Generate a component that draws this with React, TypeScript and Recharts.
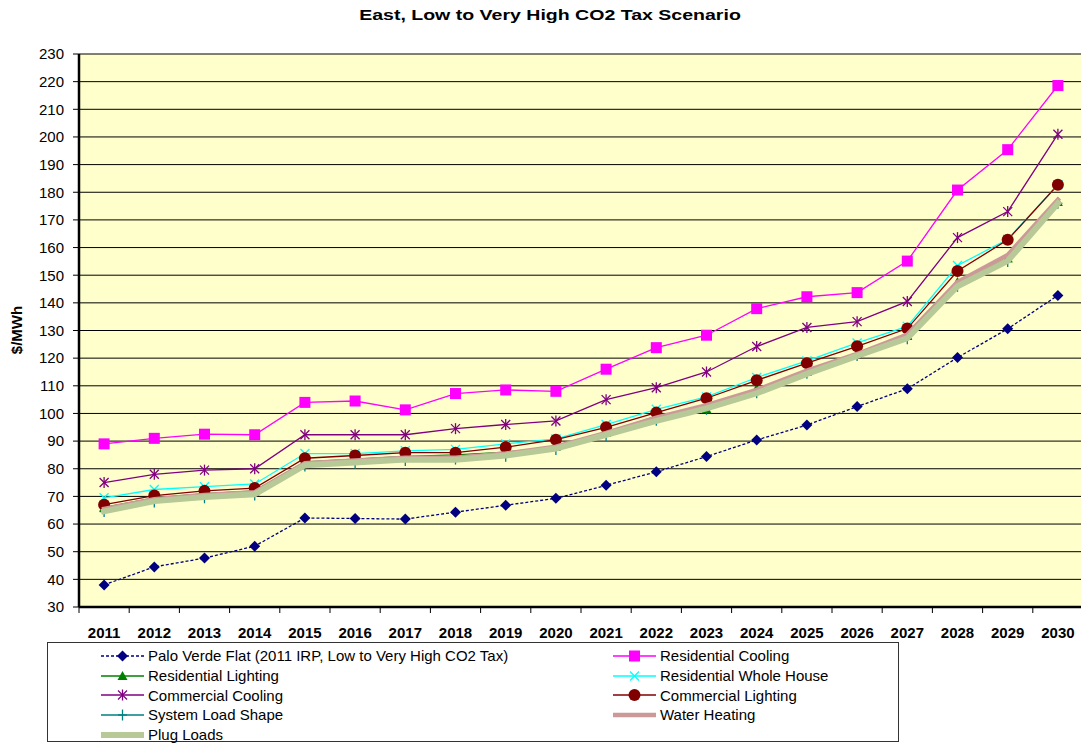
import { LineChart, Line, XAxis, YAxis, CartesianGrid } from 'recharts'

const years = ['2011', '2012', '2013', '2014', '2015', '2016', '2017', '2018', '2019', '2020',
  '2021', '2022', '2023', '2024', '2025', '2026', '2027', '2028', '2029', '2030']

const paloVerde = [38, 44.5, 47.7, 52, 62.2, 62, 61.8, 64.3, 66.8, 69.3, 74, 78.9, 84.4, 90.4, 95.8, 102.5, 108.9, 120.2, 130.6, 142.7]
const resCooling = [89, 91, 92.5, 92.3, 104, 104.5, 101.3, 107.2, 108.5, 108, 116, 123.8, 128.3, 137.9, 142.2, 143.7, 155.1, 180.8, 195.4, 218.6]
const resLighting = [66, 69.5, 71, 72, 82.5, 83.5, 84.5, 85, 86, 88, 93, 99, 101.5, 109, 115, 121.5, 128, 147.5, 156, 176.5]
const resWholeHouse = [69.5, 72.5, 73.5, 74.5, 85.5, 85.5, 86.5, 87, 89, 90.8, 96, 101.5, 106, 113, 119, 125.5, 131.5, 153.5, 163, 182.7]
const comCooling = [75, 78, 79.5, 80, 92.3, 92.3, 92.3, 94.5, 96, 97.3, 105, 109.3, 115, 124.2, 131.1, 133.2, 140.5, 163.6, 173, 201]
const comLighting = [67, 70.3, 72, 73, 83.8, 84.8, 85.8, 85.8, 87.8, 90.5, 95, 100.3, 105.5, 112, 118.2, 124.3, 130.7, 151.5, 162.8, 182.7]
const systemLoad = [64.5, 68, 69.5, 70.5, 81, 82, 83, 83.5, 84.5, 87, 92, 97.5, 101.5, 107.5, 114.5, 121, 127, 146, 155, 176]
const waterHeating = [65.5, 69, 70.5, 71.5, 82, 83, 84, 84, 85.5, 88, 93, 98.5, 103, 108.5, 115.5, 121.5, 128.5, 147.5, 157.3, 177.3]
const plugLoads = [64.6, 68.3, 69.8, 70.8, 81.3, 82.3, 83.3, 83.3, 84.8, 87.3, 92.3, 97.3, 101.8, 107.3, 114.3, 120.8, 127.2, 146, 155.2, 176]

const yTicks = [30, 40, 50, 60, 70, 80, 90, 100, 110, 120, 130, 140, 150, 160, 170, 180, 190, 200, 210, 220, 230]

type Marker = 'diamond' | 'square' | 'triangle' | 'x' | 'asterisk' | 'circle' | 'plus' | 'none'

const series: { key: string; name: string; values: number[]; color: string; width: number; dash?: string; marker: Marker }[] = [
  { key: 'pv', name: 'Palo Verde Flat (2011 IRP, Low to Very High CO2 Tax)', values: paloVerde, color: '#000080', width: 1.3, dash: '3 2', marker: 'diamond' },
  { key: 'rc', name: 'Residential Cooling', values: resCooling, color: '#FF00FF', width: 1.3, marker: 'square' },
  { key: 'rl', name: 'Residential Lighting', values: resLighting, color: '#008000', width: 1.3, marker: 'triangle' },
  { key: 'rw', name: 'Residential Whole House', values: resWholeHouse, color: '#00FFFF', width: 1.3, marker: 'x' },
  { key: 'cc', name: 'Commercial Cooling', values: comCooling, color: '#800080', width: 1.3, marker: 'asterisk' },
  { key: 'cl', name: 'Commercial Lighting', values: comLighting, color: '#800000', width: 1.3, marker: 'circle' },
  { key: 'sl', name: 'System Load Shape', values: systemLoad, color: '#008080', width: 1.3, marker: 'plus' },
  { key: 'wh', name: 'Water Heating', values: waterHeating, color: '#CC9999', width: 4.5, marker: 'none' },
  { key: 'pl', name: 'Plug Loads', values: plugLoads, color: '#B7C996', width: 6, marker: 'none' },
]

// draw order: thin green/teal under the thick bands, the rest on top
const drawOrder = ['sl', 'rl', 'wh', 'pl', 'rw', 'cl', 'cc', 'rc', 'pv']
const bandKeys = ['wh', 'pl']

const data = years.map((year, i) => {
  const row: Record<string, string | number> = { year }
  series.forEach(s => { row[s.key] = s.values[i] })
  return row
})

const FONT = '"Liberation Sans", Arial, sans-serif'
const CHART_W = 1085
const CHART_H = 743
const PLOT_LEFT = 79
const PLOT_RIGHT = 2
const HALF_BAND = (CHART_W - PLOT_LEFT - PLOT_RIGHT) / years.length / 2

function MarkerShape({ type, x, y, color }: { type: Marker; x: number; y: number; color: string }) {
  switch (type) {
    case 'diamond':
      return <polygon points={`${x},${y - 5.5} ${x + 5.5},${y} ${x},${y + 5.5} ${x - 5.5},${y}`} fill={color} />
    case 'square':
      return <rect x={x - 5.5} y={y - 5.5} width={11} height={11} fill={color} />
    case 'triangle':
      return <polygon points={`${x},${y - 5} ${x + 5},${y + 4} ${x - 5},${y + 4}`} fill={color} />
    case 'x':
      return (
        <g stroke={color} strokeWidth={1.3}>
          <line x1={x - 4.5} y1={y - 4.5} x2={x + 4.5} y2={y + 4.5} />
          <line x1={x - 4.5} y1={y + 4.5} x2={x + 4.5} y2={y - 4.5} />
        </g>
      )
    case 'asterisk':
      return (
        <g stroke={color} strokeWidth={1.3}>
          <line x1={x - 4.5} y1={y - 4.5} x2={x + 4.5} y2={y + 4.5} />
          <line x1={x - 4.5} y1={y + 4.5} x2={x + 4.5} y2={y - 4.5} />
          <line x1={x} y1={y - 5.5} x2={x} y2={y + 5.5} />
        </g>
      )
    case 'circle':
      return <circle cx={x} cy={y} r={6} fill={color} />
    case 'plus':
      return (
        <g stroke={color} strokeWidth={1.3}>
          <line x1={x - 4.5} y1={y} x2={x + 4.5} y2={y} />
          <line x1={x} y1={y - 5.5} x2={x} y2={y + 5.5} />
        </g>
      )
    default:
      return null
  }
}

const XTick = (props: any) => {
  const { x, y, payload, index } = props
  return (
    <g>
      <line x1={x - HALF_BAND} x2={x - HALF_BAND} y1={y} y2={y + 6} stroke="#000" strokeWidth={1} />
      {index === years.length - 1 && (
        <line x1={x + HALF_BAND} x2={x + HALF_BAND} y1={y} y2={y + 6} stroke="#000" strokeWidth={1} />
      )}
      <text x={x} y={y + 31} textAnchor="middle" fontFamily={FONT} fontSize={15} fontWeight="bold" fill="#000">
        {payload.value}
      </text>
    </g>
  )
}

function LegendItem({ s }: { s: typeof series[number] }) {
  return (
    <div style={{ display: 'flex', alignItems: 'center', height: 19.7 }}>
      <svg width={45} height={16} style={{ flex: 'none' }}>
        <line x1={1} x2={44} y1={8} y2={8} stroke={s.color} strokeWidth={s.width} strokeDasharray={s.dash} />
        <MarkerShape type={s.marker} x={22.5} y={8} color={s.color} />
      </svg>
      <span style={{ marginLeft: 3, whiteSpace: 'nowrap' }}>{s.name}</span>
    </div>
  )
}

export default function App() {
  return (
    <div style={{ position: 'absolute', left: 0, top: 0, width: 1081, height: 743, overflow: 'hidden', background: '#fff', fontFamily: FONT }}>
      <div style={{ position: 'absolute', left: 0, width: 1100, top: 6, textAlign: 'center', fontSize: 15.5, fontWeight: 'bold', transform: 'scaleX(1.26)', transformOrigin: '550px 0' }}>
        East, Low to Very High CO2 Tax Scenario
      </div>
      <div style={{ position: 'absolute', left: 16, top: 330, fontSize: 15, fontWeight: 'bold', transform: 'translate(-50%, -50%) rotate(-90deg)', whiteSpace: 'nowrap' }}>
        $/MWh
      </div>
      <LineChart width={CHART_W} height={CHART_H} data={data} margin={{ top: 54, right: PLOT_RIGHT, bottom: 106, left: 0 }}>
        <CartesianGrid vertical={false} stroke="#000" strokeWidth={1} fill="#FFFFCC" fillOpacity={1} />
        <XAxis
          dataKey="year"
          height={30}
          padding={{ left: HALF_BAND, right: HALF_BAND }}
          axisLine={{ stroke: '#000', strokeWidth: 2.5 }}
          tickLine={false}
          tickSize={0}
          tickMargin={0}
          tick={<XTick />}
          interval={0}
        />
        <YAxis
          width={PLOT_LEFT}
          domain={[30, 230]}
          ticks={yTicks}
          interval={0}
          axisLine={{ stroke: '#000', strokeWidth: 2.5 }}
          tickLine={{ stroke: '#000' }}
          tickSize={6}
          tickMargin={9}
          tick={{ fontFamily: FONT, fontSize: 15, fill: '#000' }}
        />
        {drawOrder.map(k => {
          const s = series.find(v => v.key === k)!
          const band = bandKeys.includes(k)
          const extra: any = band ? { zIndex: 650 } : {}
          return (
            <Line
              key={s.key}
              dataKey={s.key}
              name={s.name}
              type="linear"
              stroke={s.color}
              strokeWidth={s.width}
              strokeDasharray={s.dash}
              strokeLinecap={band ? 'square' : 'butt'}
              isAnimationActive={false}
              activeDot={false}
              {...extra}
              dot={band ? false : (p: any) => (
                <g key={`${s.key}-${p.index}`}>
                  <MarkerShape type={s.marker} x={p.cx} y={p.cy} color={s.color} />
                </g>
              )}
            />
          )
        })}
      </LineChart>
      <div
        style={{
          position: 'absolute', left: 47, top: 642, width: 852, height: 100,
          border: '1.5px solid #333', background: '#fff', fontSize: 15, boxSizing: 'border-box',
        }}
      >
        <div style={{ position: 'absolute', left: 52, top: 3 }}>
          {series.filter((_, i) => i % 2 === 0).map(s => <LegendItem key={s.key} s={s} />)}
        </div>
        <div style={{ position: 'absolute', left: 564, top: 3 }}>
          {series.filter((_, i) => i % 2 === 1).map(s => <LegendItem key={s.key} s={s} />)}
        </div>
      </div>
    </div>
  )
}
